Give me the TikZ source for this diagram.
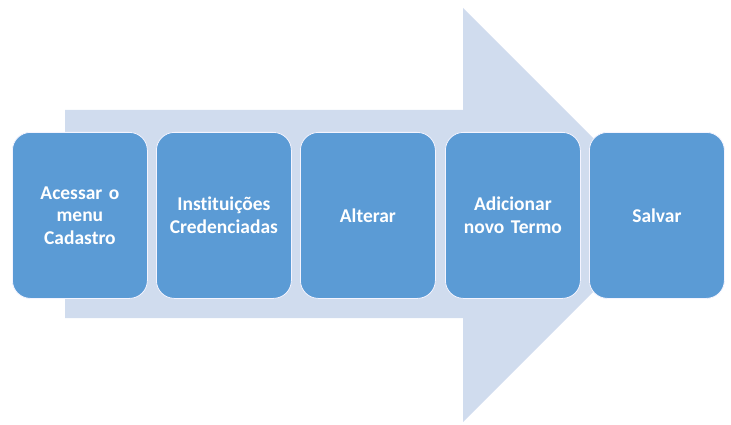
\documentclass[tikz,border=0pt]{standalone}
\usepackage{fontspec}
\setmainfont[Ligatures={NoCommon},WordSpace=0.75]{Carlito}
\begin{document}
\begin{tikzpicture}[x=1pt,y=-1pt,
  stepbox/.style={draw=white!85!blue!30, line width=0.8pt, fill=stepblue, rounded corners=18pt,
    minimum width=135pt, minimum height=166pt, anchor=north west, inner sep=0pt,
    text=white, font=\bfseries\fontsize{19.5}{22.5}\selectfont, align=center, text width=130pt}]
\definecolor{stepblue}{HTML}{5B9BD5}
\definecolor{arrowfill}{HTML}{D0DCEE}
\useasboundingbox (0,0) rectangle (731,425);
\fill[arrowfill] (65,110) -- (463,110) -- (463,8) -- (670,215) -- (463,422) -- (463,318) -- (65,318) -- cycle;
\node[stepbox] (s1) at (12,132) {Acessar o\\menu\\Cadastro};
\node[stepbox] (s2) at (156,132) {Instituições\\Credenciadas};
\node[stepbox] (s3) at (300,132) {Alterar};
\node[stepbox] (s4) at (445,132) {Adicionar\\novo Termo};
\node[stepbox] (s5) at (589,132) {Salvar};
\end{tikzpicture}
\end{document}
